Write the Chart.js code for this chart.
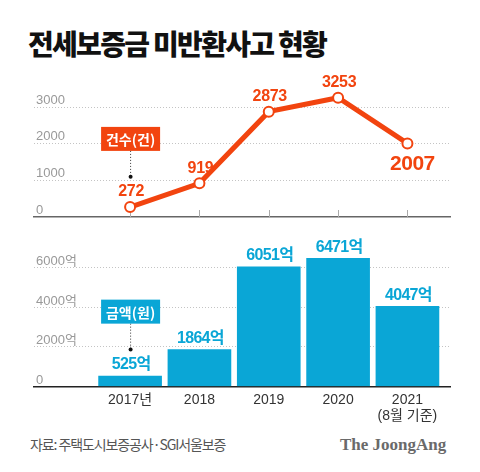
<!DOCTYPE html>
<html>
<head>
<meta charset="utf-8">
<script src="https://cdn.jsdelivr.net/npm/chart.js@4"></script>
<style>
body { margin: 0; background: #fff; width: 480px; height: 472px; position: relative; overflow: hidden; font-family: "Noto Sans CJK KR", sans-serif; }
#title { position: absolute; left: 28px; top: 29px; font-size: 28px; line-height: 1; font-weight: 900; letter-spacing: -1.7px; color: #111; }
#c1 { position: absolute; left: 0; top: 70px; }
#c2 { position: absolute; left: 0; top: 230px; }
#src { position: absolute; left: 30px; top: 437px; font-size: 14px; line-height: 1; color: #555; letter-spacing: -1.1px; }
#logo { position: absolute; left: 340px; top: 436px; font-family: "Liberation Serif", serif; font-weight: bold; font-size: 17px; line-height: 1; color: #6a6a6a; }
</style>
</head>
<body>
<div id="title">전세보증금 미반환사고 현황</div>
<canvas id="c1" width="480" height="160"></canvas>
<canvas id="c2" width="480" height="200"></canvas>
<div id="src">자료: 주택도시보증공사·SGI서울보증</div>
<div id="logo">The JoongAng</div>
<script>
const years = ['2017년', '2018', '2019', '2020', ['2021', '(8월 기준)']];
const cases = [272, 919, 2873, 3253, 2007];
const amounts = [525, 1864, 6051, 6471, 4047];
const caseTicks = [0, 1000, 2000, 3000];
const amountTicks = [0, 2000, 4000, 6000];

const ORANGE = '#f2440f';
const BLUE = '#0aa6d6';
const FONT = '"Liberation Sans", "Noto Sans CJK KR", sans-serif';
const X_MIN = -1.386, X_MAX = 4.614;

// small boxed legend label with a dotted leader down to a dot
function drawTag(chart, text, color, boxValue, dotValue) {
    const ctx = chart.ctx;
    const x = chart.scales.x.getPixelForValue(0);
    const by = chart.scales.y.getPixelForValue(boxValue);
    const dy = chart.scales.y.getPixelForValue(dotValue);
    ctx.save();
    ctx.strokeStyle = '#333';
    ctx.lineWidth = 1;
    ctx.setLineDash([1, 2]);
    ctx.beginPath();
    ctx.moveTo(x + 0.5, by + 12);
    ctx.lineTo(x + 0.5, dy);
    ctx.stroke();
    ctx.setLineDash([]);
    ctx.fillStyle = '#111';
    ctx.beginPath();
    ctx.arc(x + 0.5, dy, 2, 0, Math.PI * 2);
    ctx.fill();
    ctx.fillStyle = color;
    ctx.fillRect(x - 29, by - 12, 59, 24);
    ctx.fillStyle = '#fff';
    ctx.font = 'bold 14px "Noto Sans CJK KR", sans-serif';
    ctx.textAlign = 'center';
    ctx.textBaseline = 'middle';
    ctx.fillText(text, x + 0.5, by + 1);
    ctx.restore();
}

const lineMarks = {
    id: 'lineMarks',
    beforeDatasetsDraw(chart) {
        const ctx = chart.ctx;
        const xs = chart.scales.x;
        const bottom = chart.chartArea.bottom;
        ctx.save();
        ctx.strokeStyle = '#aaa';
        ctx.lineWidth = 1;
        cases.forEach((v, i) => {
            const x = Math.round(xs.getPixelForValue(i)) + 0.5;
            ctx.beginPath();
            ctx.moveTo(x, bottom);
            ctx.lineTo(x, bottom - 7);
            ctx.stroke();
        });
        ctx.restore();
    },
    afterDatasetsDraw(chart) {
        const ctx = chart.ctx;
        const pts = chart.getDatasetMeta(0).data;
        ctx.save();
        ctx.fillStyle = ORANGE;
        ctx.textAlign = 'center';
        ctx.textBaseline = 'middle';
        pts.forEach((p, i) => {
            const last = i === cases.length - 1;
            ctx.font = (last ? 'bold 21px ' : 'bold 16px ') + FONT;
            ctx.letterSpacing = last ? '-0.5px' : '-0.3px';
            ctx.fillText(String(cases[i]), p.x + (last ? 5 : 1), p.y + (last ? 21 : -15));
        });
        ctx.restore();
        drawTag(chart, '건수(건)', ORANGE, 2130, 1100);
    }
};

const barMarks = {
    id: 'barMarks',
    afterDatasetsDraw(chart) {
        const ctx = chart.ctx;
        const bars = chart.getDatasetMeta(0).data;
        ctx.save();
        ctx.fillStyle = BLUE;
        ctx.textAlign = 'center';
        ctx.textBaseline = 'middle';
        ctx.font = 'bold 16px ' + FONT;
        ctx.letterSpacing = '-0.7px';
        bars.forEach((b, i) => {
            ctx.fillText(amounts[i] + '억', b.x + 1, b.y - 11);
        });
        ctx.restore();
        drawTag(chart, '금액(원)', BLUE, 3780, 1870);
    }
};

new Chart(document.getElementById('c1'), {
    type: 'line',
    data: {
        datasets: [{
            data: cases.map((v, i) => ({ x: i, y: v })),
            borderColor: ORANGE,
            borderWidth: 5,
            pointRadius: 5,
            pointBackgroundColor: '#fff',
            pointBorderColor: ORANGE,
            pointBorderWidth: 2,
            tension: 0,
            clip: false
        }]
    },
    options: {
        responsive: false,
        animation: false,
        layout: { padding: { left: 30, right: 30, top: 15, bottom: 13 } },
        plugins: { legend: { display: false }, tooltip: { enabled: false } },
        scales: {
            x: {
                type: 'linear', min: X_MIN, max: X_MAX, offset: false,
                ticks: { display: false },
                grid: { display: false, drawTicks: false },
                border: { display: true, color: '#666', width: 1.5 }
            },
            y: {
                min: 0, max: 3600,
                afterBuildTicks: s => { s.ticks = caseTicks.map(v => ({ value: v })); },
                ticks: {
                    mirror: true, padding: 2, labelOffset: -7, color: '#999',
                    font: { family: FONT, size: 13 },
                    callback: v => String(v)
                },
                grid: {
                    drawTicks: false,
                    color: c => (c.tick && c.tick.value === 0) ? 'rgba(0,0,0,0)' : '#c4c4c4'
                },
                border: { display: false, dash: [1, 2] }
            }
        }
    },
    plugins: [lineMarks]
});

new Chart(document.getElementById('c2'), {
    type: 'bar',
    data: {
        datasets: [{
            data: amounts.map((v, i) => ({ x: i, y: v })),
            backgroundColor: BLUE,
            barThickness: 63
        }]
    },
    options: {
        responsive: false,
        animation: false,
        layout: { padding: { left: 30, right: 30, top: 14, bottom: 0 } },
        plugins: { legend: { display: false }, tooltip: { enabled: false } },
        scales: {
            x: {
                type: 'linear', min: X_MIN, max: X_MAX, offset: false,
                afterBuildTicks: s => { s.ticks = years.map((y, i) => ({ value: i })); },
                ticks: {
                    autoSkip: false, maxRotation: 0, padding: 5, color: '#333',
                    font: { family: FONT, size: 14 },
                    callback: v => years[v]
                },
                grid: { display: false, drawTicks: false, offset: false },
                border: { display: true, color: '#222', width: 1.5 }
            },
            y: {
                min: 0, max: 7200,
                afterBuildTicks: s => { s.ticks = amountTicks.map(v => ({ value: v })); },
                ticks: {
                    mirror: true, padding: 2, labelOffset: -6, color: '#999',
                    font: { family: FONT, size: 13 },
                    callback: v => v === 0 ? '0' : v + '억'
                },
                grid: {
                    drawTicks: false,
                    color: c => (c.tick && c.tick.value === 0) ? 'rgba(0,0,0,0)' : '#c4c4c4'
                },
                border: { display: false, dash: [1, 2] }
            }
        }
    },
    plugins: [barMarks]
});
</script>
</body>
</html>
